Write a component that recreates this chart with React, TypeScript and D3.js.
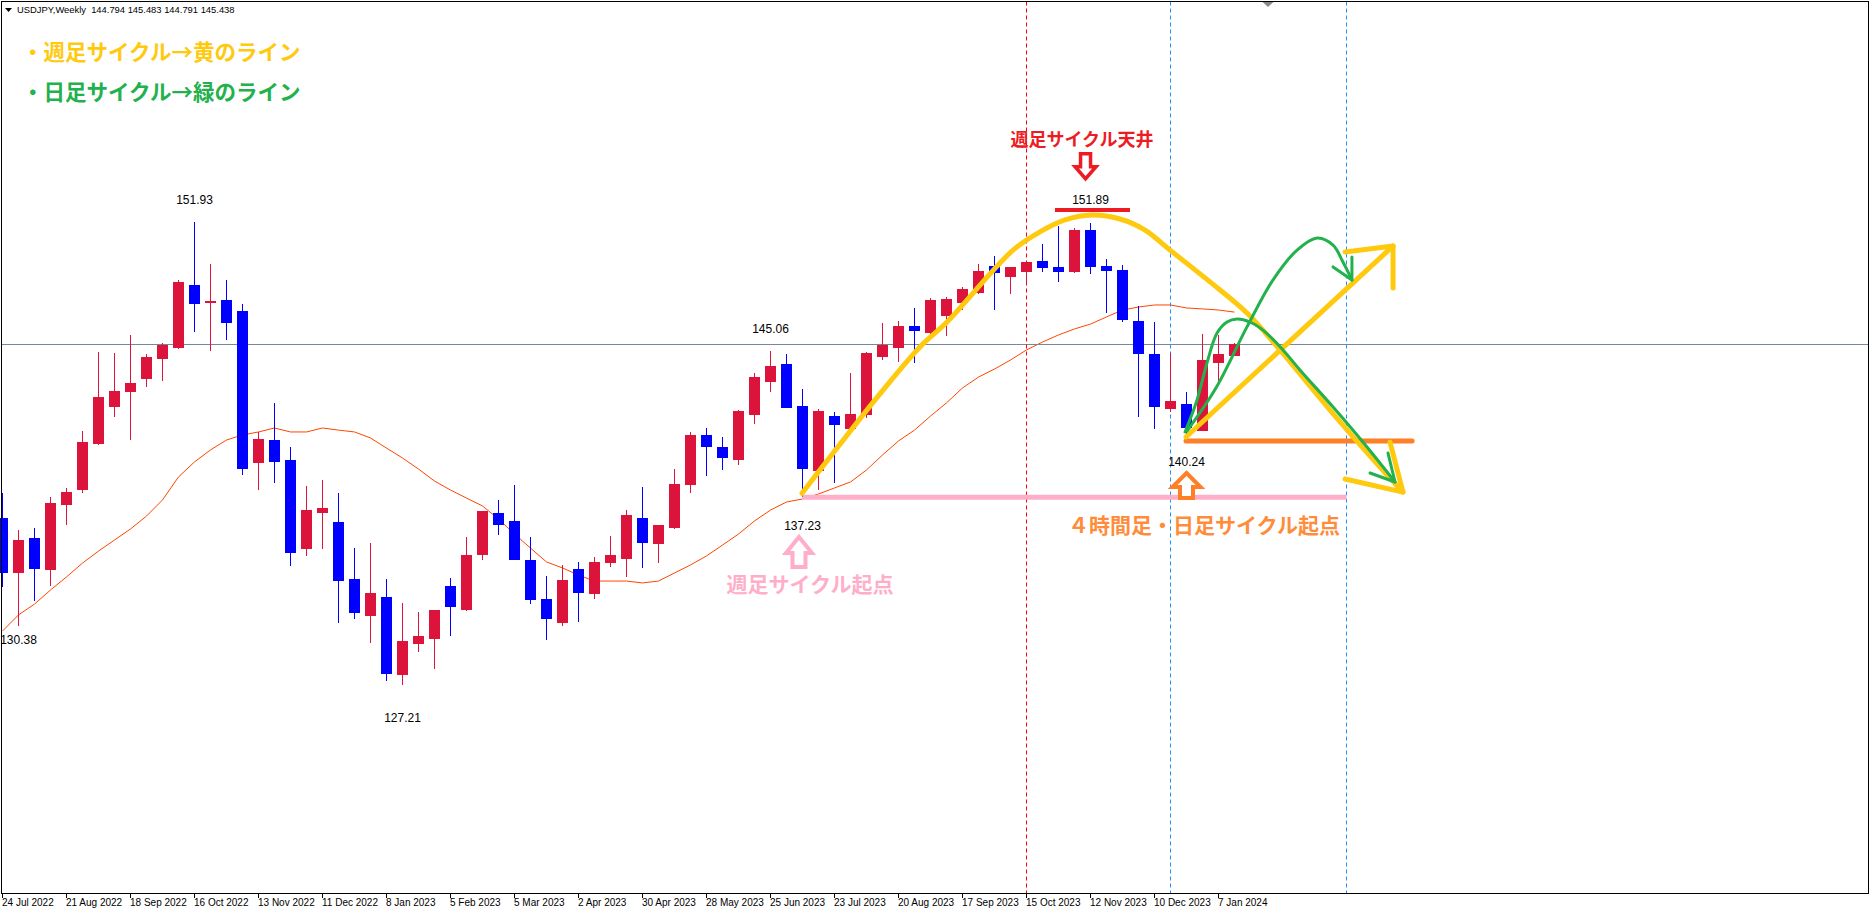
import React from 'react';
import * as d3 from 'd3';

const WIDTH = 1871;
const HEIGHT = 911;

// USDJPY weekly candles, first bar = week of 24 Jul 2022
const opens = [
  136.14, 133.21, 135.06, 133.37, 136.84, 137.62, 140.08, 142.07, 142.87, 143.56,
  144.63, 145.22, 148.57, 147.62, 147.76, 147.18, 139.08, 140.29, 139.22, 134.49,
  136.41, 135.91, 132.87, 130.91, 131.91, 127.76, 129.42, 129.68, 132.49, 131.23,
  134.17, 136.39, 135.97, 133.88, 131.82, 130.54, 133.4, 132.08, 133.74, 133.95,
  136.13, 134.75, 135.61, 137.91, 140.56, 139.92, 139.24, 141.65, 143.4, 144.35,
  142.11, 138.65, 141.57, 140.89, 141.64, 144.74, 145.22, 146.38, 146.02, 146.93,
  147.62, 148.15, 149.58, 148.99, 149.26, 149.85, 149.53, 149.26, 151.5, 149.58,
  149.37, 146.64, 144.88, 141.96, 142.21, 140.79, 144.42, 144.794,
];
const highs = [
  137.48, 135.49, 135.61, 137.26, 137.75, 140.79, 145.0, 144.93, 145.9, 144.88,
  145.45, 148.83, 151.93, 149.69, 148.83, 147.55, 140.73, 142.28, 139.93, 137.85,
  138.16, 137.46, 134.54, 134.8, 132.87, 131.59, 131.11, 131.2, 132.92, 135.11,
  136.5, 137.09, 137.89, 135.11, 133.03, 133.62, 133.78, 134.04, 135.17, 136.55,
  137.78, 135.75, 138.75, 140.72, 140.93, 140.45, 141.89, 143.87, 145.06, 144.88,
  143.01, 141.95, 141.79, 143.87, 144.99, 146.54, 146.64, 147.34, 147.87, 147.93,
  148.46, 149.69, 150.11, 149.53, 149.8, 150.78, 151.72, 151.59, 151.89, 149.96,
  149.63, 147.45, 146.59, 144.94, 142.85, 145.97, 145.9, 145.483,
];
const lows = [
  132.46, 130.38, 131.7, 132.51, 135.77, 137.48, 140.0, 141.52, 140.31, 143.14,
  143.46, 145.17, 146.07, 145.06, 145.63, 138.42, 137.64, 138.01, 133.58, 134.11,
  134.49, 130.54, 130.75, 129.47, 127.44, 127.21, 128.99, 128.08, 129.8, 131.18,
  133.9, 135.23, 133.9, 131.55, 129.63, 130.38, 130.59, 131.82, 133.53, 132.99,
  133.47, 133.74, 135.56, 137.48, 138.39, 138.71, 138.98, 141.16, 142.87, 142.01,
  137.23, 137.64, 138.01, 140.84, 141.48, 144.58, 144.47, 144.42, 145.97, 145.86,
  147.25, 148.1, 147.23, 148.1, 148.62, 149.26, 148.73, 149.2, 149.18, 147.07,
  146.61, 141.53, 140.89, 141.8, 140.24, 140.79, 143.35, 144.791,
];
const closes = [
  133.21, 134.97, 133.42, 136.93, 137.53, 140.18, 142.59, 142.91, 143.33, 144.72,
  145.36, 148.73, 147.57, 147.71, 146.55, 138.76, 140.34, 139.13, 134.27, 136.57,
  136.68, 132.78, 131.07, 132.14, 127.81, 129.56, 129.83, 131.2, 131.39, 134.15,
  136.5, 135.77, 133.9, 131.76, 130.71, 132.82, 132.14, 133.78, 134.15, 136.28,
  134.81, 135.75, 137.96, 140.56, 139.93, 139.35, 141.84, 143.65, 144.24, 142.01,
  138.76, 141.84, 141.1, 141.68, 144.94, 145.36, 146.38, 146.13, 147.77, 147.82,
  148.35, 149.31, 149.21, 149.53, 149.8, 149.47, 149.26, 151.5, 149.53, 149.32,
  146.71, 144.9, 142.07, 142.37, 140.95, 144.57, 144.88, 145.438,
];
// 20-week moving average
const ma20 = [
  130.09, 130.95, 131.53, 132.28, 132.98, 133.72, 134.36, 134.95, 135.54, 136.23,
  137.09, 138.32, 139.12, 139.76, 140.29, 140.56, 140.72, 140.93, 140.72, 140.72,
  140.93, 140.82, 140.72, 140.4, 139.86, 139.33, 138.74, 138.1, 137.62, 137.19,
  136.77, 136.07, 135.27, 134.52, 133.78, 133.46, 133.08, 132.76, 132.76, 132.76,
  132.66, 132.76, 133.19, 133.62, 134.1, 134.68, 135.27, 135.97, 136.55, 136.98,
  137.14, 137.41, 137.73, 138.05, 138.69, 139.49, 140.24, 140.82, 141.57, 142.27,
  143.07, 143.65, 144.08, 144.56, 145.1, 145.52, 145.9, 146.22, 146.48, 146.86,
  147.23, 147.39, 147.5, 147.5, 147.34, 147.29, 147.23, 147.12,
];
const dateLabels = [
  '24 Jul 2022', '21 Aug 2022', '18 Sep 2022', '16 Oct 2022', '13 Nov 2022',
  '11 Dec 2022', '8 Jan 2023', '5 Feb 2023', '5 Mar 2023', '2 Apr 2023',
  '30 Apr 2023', '28 May 2023', '25 Jun 2023', '23 Jul 2023', '20 Aug 2023',
  '17 Sep 2023', '15 Oct 2023', '12 Nov 2023', '10 Dec 2023', '7 Jan 2024',
];
const titleText = 'USDJPY,Weekly\u00a0\u00a0144.794 145.483 144.791 145.438';
const lastPrice = 145.438;

// extreme value labels (bar index, value)
const extremeIdx = [12, 1, 25, 48, 50, 68, 74];
const extremeVals = [151.93, 130.38, 127.21, 145.06, 137.23, 151.89, 140.24];
const extremeOffsets = [-18, 18, 37, -18, 33, -19, 25];

// vertical dotted lines (bar index)
const redVLine = [64];
const blueVLines = [73, 84];

// annotation drawings in (bar index, price)
const yellowArc: [number, number][] = [
  [49.97, 137.45], [54.84, 142.75], [57.34, 145.26], [59.03, 146.59], [63.16, 150.43],
  [64.84, 151.4], [66.41, 152.04], [68.09, 152.3], [69.84, 152.09], [71.41, 151.5],
  [72.97, 150.43], [75.47, 148.73], [77.78, 147.07], [79.84, 145.1], [82.97, 141.89],
  [86.09, 138.85], [87.53, 137.51],
];
const yellowDownHead: [number, number][] = [[83.91, 138.21], [87.53, 137.51], [86.72, 140.18]];
const yellowUpLine: [number, number][] = [[73.97, 140.45], [86.91, 150.65]];
const yellowUpHead: [number, number][] = [[83.91, 150.33], [86.91, 150.65], [86.91, 148.41]];
const greenA: [number, number][] = [
  [73.91, 140.72], [74.66, 142.43], [75.28, 144.4], [75.91, 146.0], [76.53, 146.59],
  [77.16, 146.75], [77.97, 146.59], [78.78, 146.16], [80.03, 145.1], [81.09, 144.03],
  [83.16, 142.05], [85.28, 139.92], [87.03, 138.05],
];
const greenAHead: [number, number][] = [[85.47, 138.53], [87.03, 138.05], [86.59, 139.6]];
const greenB: [number, number][] = [
  [74.03, 140.77], [75.84, 143.07], [77.78, 146.33], [79.41, 148.84], [80.91, 150.43],
  [82.16, 151.08], [83.16, 150.7], [83.78, 149.79], [84.34, 148.83],
];
const greenBHead: [number, number][] = [[83.16, 149.53], [84.34, 148.83], [84.34, 150.06]];
const orangeLevel = { from: 73.97, to: 88.1, price: 140.24 };
const pinkLevel = { from: 50, to: 84, price: 137.23 };
const redLevel = { from: 65.78, to: 70.47, price: 152.57 };

// hollow block arrows: [bar index, tip price, tail price]
const pinkArrow = [49.78, 135.11, 133.51];
const orangeArrow = [74.0, 138.53, 137.2];
const redArrow = [67.69, 154.24, 155.58];

const legend1 = '・週足サイクル→黄のライン';
const legend2 = '・日足サイクル→緑のライン';
const topText = '週足サイクル天井';
const pinkText = '週足サイクル起点';
const orangeText = '４時間足・日足サイクル起点';
const topTextPos = [67.47, 155.99];
const pinkTextPos = [50.47, 132.17];
const orangeTextPos = [75.09, 135.33];

const RED = '#DC143C';
const BLUE = '#0000FF';
const JP = "'Noto Sans CJK JP', 'Noto Sans CJK SC', sans-serif";
const LAT = "'Liberation Sans', Arial, sans-serif";

export default function App() {
  const left = 1.5, right = 1868.5, top = 1.5, bottom = 893.5;
  const x = d3.scaleLinear().domain([0, 1]).range([2.5, 18.5]);
  const y = d3.scaleLinear().domain([151.93, 127.21]).range([222, 685]);

  const smooth = d3.line<[number, number]>().x(d => x(d[0])).y(d => y(d[1])).curve(d3.curveCatmullRom.alpha(0.5));
  const straight = d3.line<[number, number]>().x(d => x(d[0])).y(d => y(d[1]));
  const maLine = d3.line<number>().x((_, i) => x(i)).y(d => y(d));

  const arrowPath = (cx: number, tipY: number, botY: number, hw: number, hh: number, sw: number) => {
    const dir = botY > tipY ? 1 : -1;
    const b = tipY + dir * hh;
    return `M${cx},${tipY} L${cx + hw},${b} L${cx + sw},${b} L${cx + sw},${botY} L${cx - sw},${botY} L${cx - sw},${b} L${cx - hw},${b} Z`;
  };

  const bars = opens.map((o, i) => ({ o, h: highs[i], l: lows[i], c: closes[i], i }));
  const py = Math.round(y(lastPrice)) + 0.5;

  return (
    <svg width={WIDTH} height={HEIGHT} style={{ position: 'absolute', left: 0, top: 0, background: '#fff' }}>
      <rect x={0} y={0} width={WIDTH} height={HEIGHT} fill="#fff" />
      {/* MA */}
      <path d={maLine(ma20) || ''} fill="none" stroke="#FF4500" strokeWidth={1} />
      {/* current price line */}
      <line x1={left} x2={right} y1={py} y2={py} stroke="#778899" strokeWidth={1} />
      {/* vertical dotted lines */}
      {redVLine.map(i => (
        <line key={'r' + i} x1={x(i)} x2={x(i)} y1={top} y2={bottom} stroke="#FF0000" strokeWidth={1} strokeDasharray="4,3" />
      ))}
      {blueVLines.map(i => (
        <line key={'b' + i} x1={x(i)} x2={x(i)} y1={top} y2={bottom} stroke="#1E90FF" strokeWidth={1} strokeDasharray="4,3" />
      ))}
      {/* candles */}
      <g shapeRendering="crispEdges">
        {bars.map(b => {
          const up = b.c >= b.o;
          const col = up ? RED : BLUE;
          const yt = y(Math.max(b.o, b.c));
          const yb = y(Math.min(b.o, b.c));
          return (
            <g key={b.i}>
              <line x1={x(b.i)} x2={x(b.i)} y1={y(b.h)} y2={y(b.l)} stroke={col} strokeWidth={1} />
              <rect x={x(b.i) - 5.5} y={yt} width={11} height={Math.max(1.5, yb - yt)} fill={col} />
            </g>
          );
        })}
      </g>
      {/* pink level */}
      <line x1={x(pinkLevel.from)} x2={x(pinkLevel.to)} y1={y(pinkLevel.price)} y2={y(pinkLevel.price)} stroke="#FFAEC9" strokeWidth={5} />
      {/* orange level */}
      <line x1={x(orangeLevel.from)} x2={x(orangeLevel.to)} y1={y(orangeLevel.price)} y2={y(orangeLevel.price)} stroke="#FF7F27" strokeWidth={5} strokeLinecap="round" />
      {/* red top level */}
      <line x1={x(redLevel.from)} x2={x(redLevel.to)} y1={y(redLevel.price)} y2={y(redLevel.price)} stroke="#ED1C24" strokeWidth={4} />
      {/* yellow lines */}
      <g fill="none" stroke="#FFC90E" strokeWidth={5} strokeLinecap="round" strokeLinejoin="round">
        <path d={smooth(yellowArc) || ''} />
        <path d={straight(yellowDownHead) || ''} />
        <path d={straight(yellowUpLine) || ''} />
        <path d={straight(yellowUpHead) || ''} />
      </g>
      {/* green lines */}
      <g fill="none" stroke="#22B14C" strokeWidth={3} strokeLinecap="round" strokeLinejoin="round">
        <path d={smooth(greenA) || ''} />
        <path d={straight(greenAHead) || ''} />
        <path d={smooth(greenB) || ''} />
        <path d={straight(greenBHead) || ''} />
      </g>
      {/* hollow arrows */}
      <path d={arrowPath(x(pinkArrow[0]), y(pinkArrow[1]), y(pinkArrow[2]), 13, 16, 6.5)} fill="#fff" stroke="#FFAEC9" strokeWidth={4} strokeLinejoin="miter" />
      <path d={arrowPath(x(orangeArrow[0]), y(orangeArrow[1]), y(orangeArrow[2]), 14, 14, 6.5)} fill="#fff" stroke="#FF7F27" strokeWidth={4} strokeLinejoin="miter" />
      <path d={arrowPath(x(redArrow[0]), y(redArrow[1]), y(redArrow[2]), 10.5, 12, 5)} fill="#fff" stroke="#ED1C24" strokeWidth={3.5} strokeLinejoin="miter" />
      {/* extreme labels */}
      {extremeIdx.map((i, k) => (
        <text key={'e' + k} x={x(i)} y={y(extremeVals[k]) + extremeOffsets[k]} textAnchor="middle" fontFamily={LAT} fontSize={12} fill="#000">
          {extremeVals[k].toFixed(2)}
        </text>
      ))}
      {/* annotation texts */}
      <text x={x(topTextPos[0])} y={y(topTextPos[1])} textAnchor="middle" fontFamily={JP} fontWeight={700} fontSize={18} fill="#ED1C24">{topText}</text>
      <text x={x(pinkTextPos[0])} y={y(pinkTextPos[1])} textAnchor="middle" fontFamily={JP} fontWeight={700} fontSize={21} fill="#FFAEC9">{pinkText}</text>
      <text x={x(orangeTextPos[0])} y={y(orangeTextPos[1])} textAnchor="middle" fontFamily={JP} fontWeight={700} fontSize={21} fill="#FF8C3A">{orangeText}</text>
      {/* legend */}
      <text x={22} y={60} fontFamily={JP} fontWeight={700} fontSize={21.5} fill="#FFC90E">{legend1}</text>
      <text x={22} y={100} fontFamily={JP} fontWeight={700} fontSize={21.5} fill="#22B14C">{legend2}</text>
      {/* title */}
      <path d="M5,8 L12,8 L8.5,12 Z" fill="#000" />
      <text x={17} y={13} fontFamily={LAT} fontSize={9.4} fill="#000">{titleText}</text>
      {/* chart shift marker */}
      <path d="M1262,1.5 L1274,1.5 L1268,7 Z" fill="#8A8A8A" />
      {/* frame */}
      <rect x={left} y={top} width={right - left} height={bottom - top} fill="none" stroke="#000" strokeWidth={1} shapeRendering="crispEdges" />
      {/* time axis */}
      {dateLabels.map((lab, k) => {
        const xi = x(k * 4);
        return (
          <g key={'t' + k}>
            <line x1={xi} x2={xi} y1={bottom} y2={bottom + 4} stroke="#000" strokeWidth={1} shapeRendering="crispEdges" />
            <text x={xi - 0.5} y={906} fontFamily={LAT} fontSize={10} fill="#000">{lab}</text>
          </g>
        );
      })}
    </svg>
  );
}
